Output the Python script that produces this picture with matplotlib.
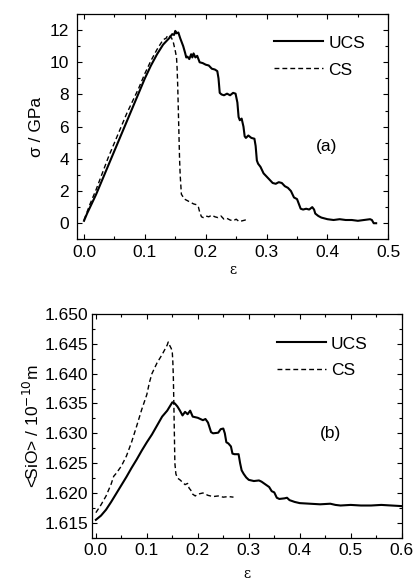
import matplotlib
matplotlib.use("Agg")
import matplotlib.pyplot as plt
from matplotlib.ticker import MultipleLocator, FormatStrFormatter

plt.rcParams['font.family'] = ['Liberation Sans', 'DejaVu Sans']

# ---------------- data: panel (a) stress-strain ----------------
a_ucs_x = [0.000, 0.005, 0.01, 0.02, 0.03, 0.04, 0.05, 0.06, 0.07, 0.08, 0.09, 0.10, 0.11, 0.12,
           0.13, 0.135, 0.14, 0.145, 0.148, 0.150, 0.152, 0.155, 0.158, 0.160, 0.163, 0.166, 0.168,
           0.170, 0.173, 0.176, 0.178, 0.180, 0.183, 0.186, 0.19, 0.195, 0.20, 0.205, 0.21, 0.215,
           0.219, 0.221, 0.223, 0.226, 0.23, 0.235, 0.24, 0.245, 0.249, 0.252, 0.254, 0.256, 0.259,
           0.262, 0.264, 0.266, 0.27, 0.275, 0.28, 0.282, 0.284, 0.286, 0.29, 0.295, 0.30, 0.305,
           0.31, 0.315, 0.32, 0.325, 0.33, 0.335, 0.34, 0.345, 0.35, 0.353, 0.356, 0.36, 0.365, 0.37,
           0.375, 0.378, 0.38, 0.385, 0.39, 0.395, 0.40, 0.41, 0.42, 0.43, 0.44, 0.45, 0.46, 0.47,
           0.473, 0.476, 0.48]
a_ucs_y = [0.15, 0.6, 1.0, 1.8, 2.7, 3.6, 4.5, 5.4, 6.3, 7.2, 8.1, 9.0, 9.8, 10.5,
           11.1, 11.3, 11.5, 11.75, 11.7, 11.95, 11.8, 11.85, 11.5, 11.3, 11.0, 10.6, 10.3,
           10.35, 10.2, 10.5, 10.3, 10.55, 10.3, 10.4, 10.0, 9.95, 9.85, 9.8, 9.6, 9.55,
           9.45, 9.0, 8.1, 8.0, 7.95, 8.05, 7.95, 8.1, 8.05, 7.5, 6.6, 6.4, 6.5,
           6.0, 5.4, 5.3, 5.45, 5.3, 5.25, 4.8, 3.9, 3.7, 3.5, 3.1, 2.9, 2.7,
           2.5, 2.45, 2.55, 2.5, 2.3, 2.2, 2.0, 1.6, 1.5, 1.2, 0.9, 0.85, 0.9, 0.85,
           1.0, 0.85, 0.6, 0.45, 0.35, 0.3, 0.25, 0.2, 0.25, 0.2, 0.2, 0.15, 0.2, 0.25,
           0.2, 0.0, 0.0]

a_cs_x = [0.0, 0.005, 0.01, 0.02, 0.03, 0.04, 0.05, 0.06, 0.07, 0.08, 0.09, 0.10, 0.11, 0.12,
          0.125, 0.13, 0.135, 0.138, 0.141, 0.144, 0.147, 0.150, 0.152, 0.153, 0.154, 0.155,
          0.156, 0.157, 0.158, 0.159, 0.16, 0.165, 0.17, 0.175, 0.18, 0.185, 0.188, 0.19, 0.193,
          0.196, 0.20, 0.205, 0.21, 0.215, 0.22, 0.225, 0.23, 0.235, 0.24, 0.245, 0.25, 0.255,
          0.26, 0.265, 0.27]
a_cs_y = [0.2, 0.7, 1.2, 2.1, 3.1, 4.1, 5.0, 5.9, 6.8, 7.6, 8.4, 9.3, 10.1, 10.8,
          11.1, 11.4, 11.5, 11.7, 11.6, 11.5, 11.2, 10.7, 10.3, 9.6, 8.5, 7.0,
          5.5, 4.0, 3.0, 2.4, 1.8, 1.5, 1.4, 1.3, 1.2, 1.15, 1.0, 0.7, 0.4,
          0.35, 0.45, 0.4, 0.5, 0.4, 0.35, 0.45, 0.25, 0.3, 0.2, 0.15, 0.25, 0.1,
          0.15, 0.2, 0.2]

# ---------------- data: panel (b) mean Si-O bond length ----------------
b_ucs_x = [0.0, 0.01, 0.02, 0.03, 0.04, 0.05, 0.06, 0.07, 0.08, 0.09, 0.10, 0.11, 0.12, 0.13,
           0.14, 0.145, 0.15, 0.155, 0.16, 0.165, 0.17, 0.175, 0.18, 0.185, 0.19, 0.2, 0.21,
           0.215, 0.22, 0.223, 0.226, 0.23, 0.24, 0.245, 0.25, 0.253, 0.256, 0.26, 0.265, 0.268,
           0.272, 0.28, 0.283, 0.286, 0.29, 0.295, 0.30, 0.31, 0.32, 0.325, 0.33, 0.34, 0.345,
           0.35, 0.355, 0.36, 0.37, 0.375, 0.38, 0.39, 0.40, 0.42, 0.44, 0.46, 0.47, 0.48, 0.5,
           0.52, 0.54, 0.56, 0.58, 0.6]
b_ucs_y = [1.6155, 1.6162, 1.6172, 1.6185, 1.6199, 1.6213, 1.6227, 1.6242, 1.6256, 1.6271,
           1.6285, 1.6298, 1.6313, 1.6328, 1.6338, 1.6345, 1.6352, 1.6350, 1.6345, 1.6338,
           1.6330, 1.6336, 1.6332, 1.6338, 1.6328, 1.6326, 1.6322, 1.6324, 1.6318, 1.6310,
           1.6302, 1.6300, 1.6301, 1.6307, 1.6308, 1.6300, 1.6285, 1.6283, 1.6278, 1.6266,
           1.6265, 1.6265, 1.6250, 1.6238, 1.6232, 1.6226, 1.6222, 1.6220, 1.6221, 1.6219,
           1.6216, 1.6210, 1.6203, 1.6201, 1.6192, 1.6190, 1.6191, 1.6192, 1.6188, 1.6185,
           1.6183, 1.6182, 1.6181, 1.6182, 1.6180, 1.6179, 1.6180, 1.6179, 1.6179, 1.6180,
           1.6179, 1.6178]

b_cs_x = [0.0, 0.01, 0.02, 0.03, 0.035, 0.04, 0.05, 0.06, 0.07, 0.08, 0.09, 0.10, 0.105, 0.11,
          0.12, 0.13, 0.135, 0.14, 0.142, 0.145, 0.148, 0.150, 0.151, 0.152, 0.153, 0.154, 0.155,
          0.157, 0.16, 0.165, 0.17, 0.175, 0.18, 0.183, 0.186, 0.19, 0.195, 0.2, 0.21, 0.22,
          0.23, 0.24, 0.25, 0.26, 0.27]
b_cs_y = [1.6167, 1.6180, 1.6195, 1.6215, 1.6228, 1.6233, 1.6245, 1.6262, 1.6285, 1.6312,
          1.6340, 1.6365, 1.6385, 1.6400, 1.6418, 1.6432, 1.6440, 1.6448, 1.6453, 1.6447,
          1.6442, 1.6435, 1.6420, 1.6395, 1.6350, 1.6300, 1.6250, 1.6232, 1.6225, 1.6222,
          1.6218, 1.6214, 1.6216, 1.6208, 1.6205, 1.6198, 1.6195, 1.6198, 1.6200, 1.6196,
          1.6194, 1.6195, 1.6193, 1.6194, 1.6193]

series_labels = ["UCS", "CS"]
panel_tags = ["(a)", "(b)"]

FS = 12.5
fig = plt.figure(figsize=(4.15, 5.88), dpi=100)
ax1 = fig.add_axes([0.1863, 0.593, 0.7494, 0.3832])
ax2 = fig.add_axes([0.2224, 0.0855, 0.7455, 0.3805])

def style(ax):
    ax.tick_params(which='both', direction='in', top=True, right=True, labelsize=FS, width=0.8)
    ax.tick_params(which='major', length=3.5)
    ax.tick_params(which='minor', length=2.5)
    for s in ax.spines.values():
        s.set_linewidth(0.9)

leg_kw = dict(loc='upper right', frameon=False, fontsize=FS, handlelength=2.8,
              handletextpad=0.3, labelspacing=0.68, borderaxespad=0.0, borderpad=0.0)

ax1.plot(a_ucs_x, a_ucs_y, color='black', lw=1.5, label=series_labels[0])
ax1.plot(a_cs_x, a_cs_y, color='black', lw=1.0, dashes=(3.5, 2.2), label=series_labels[1])
ax1.set_xlim(-0.011, 0.5)
ax1.set_ylim(-1, 13)
ax1.xaxis.set_major_locator(MultipleLocator(0.1))
ax1.xaxis.set_minor_locator(MultipleLocator(0.05))
ax1.yaxis.set_major_locator(MultipleLocator(2))
ax1.yaxis.set_minor_locator(MultipleLocator(1))
ax1.xaxis.set_major_formatter(FormatStrFormatter('%.1f'))
style(ax1)
ax1.tick_params(axis='x', pad=4)
ax1.tick_params(axis='y', pad=6)
ax1.set_ylabel("σ / GPa", fontsize=FS, labelpad=4)
ax1.set_xlabel("ε", fontsize=10, family='DejaVu Serif', labelpad=2)
ax1.legend(bbox_to_anchor=(0.925, 0.905), **leg_kw)
ax1.text(0.80, 0.41, panel_tags[0], transform=ax1.transAxes, fontsize=FS, ha='center', va='center')

ax2.plot(b_ucs_x, b_ucs_y, color='black', lw=1.5, label=series_labels[0])
ax2.plot(b_cs_x, b_cs_y, color='black', lw=1.0, dashes=(3.5, 2.2), label=series_labels[1])
ax2.set_xlim(-0.007, 0.6)
ax2.set_ylim(1.6125, 1.650)
ax2.xaxis.set_major_locator(MultipleLocator(0.1))
ax2.xaxis.set_minor_locator(MultipleLocator(0.05))
ax2.yaxis.set_major_locator(MultipleLocator(0.005))
ax2.yaxis.set_minor_locator(MultipleLocator(0.0025))
ax2.xaxis.set_major_formatter(FormatStrFormatter('%.1f'))
ax2.yaxis.set_major_formatter(FormatStrFormatter('%.3f'))
style(ax2)
ax2.tick_params(axis='x', pad=3.5)
ax2.tick_params(axis='y', pad=3)
ax2.set_ylabel("<SiO> / 10$^{-10}$m", fontsize=FS, labelpad=2)
ax2.set_xlabel("ε", fontsize=10, family='DejaVu Serif', labelpad=7)
ax2.legend(bbox_to_anchor=(0.89, 0.90), **leg_kw)
ax2.text(0.77, 0.468, panel_tags[1], transform=ax2.transAxes, fontsize=FS, ha='center', va='center')

fig.savefig("out.png", dpi=100)
